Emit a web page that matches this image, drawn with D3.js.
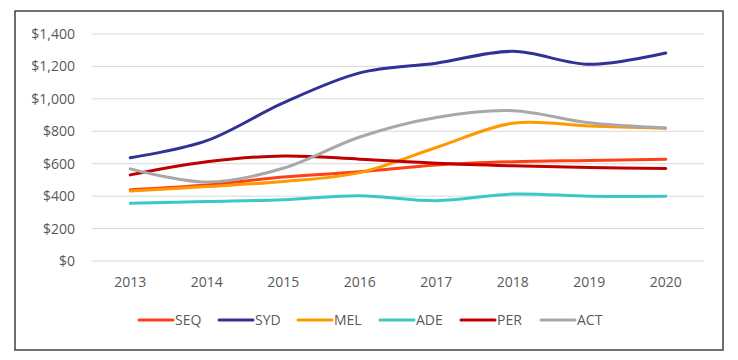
<!DOCTYPE html>
<html><head><meta charset="utf-8">
<script src="https://cdn.jsdelivr.net/npm/d3@7"></script>
<style>body{margin:0;background:#fff}svg{display:block}</style>
</head><body>
<svg id="c" width="738" height="360"></svg>
<script>
const years = ["2013","2014","2015","2016","2017","2018","2019","2020"];
const seriesNames = ["SEQ","SYD","MEL","ADE","PER","ACT"];
const seriesColors = ["#FF4017","#323296","#FF9900","#3CC8C8","#C00000","#A8A8A8"];
const SEQ = [440, 469, 518, 550, 592, 612, 620, 627];
const SYD = [637, 742, 975, 1160, 1220, 1293, 1213, 1283];
const MEL = [432, 459, 490, 545, 700, 850, 833, 819];
const ADE = [356, 367, 378, 403, 372, 413, 400, 399];
const PER = [531, 612, 648, 628, 603, 587, 576, 571];
const ACT = [568, 487, 572, 765, 885, 927, 852, 821];
const yTicks = [0,200,400,600,800,1000,1200,1400];
const seriesValues = [SEQ, SYD, MEL, ADE, PER, ACT];

const svg = d3.select("#c");
const font = "'Open Sans', 'Noto Sans', sans-serif";
svg.append("rect").attr("x",15).attr("y",11).attr("width",708).attr("height",339)
  .attr("fill","#fff").attr("stroke","#404040").attr("stroke-width",1.5);

const x = d3.scaleBand().domain(years).range([92,704]);
const y = d3.scaleLinear().domain([0,1400]).range([261,34]);

const g = svg.append("g");
g.selectAll("line.grid").data(yTicks).join("line")
  .attr("x1",92).attr("x2",704).attr("y1",d=>y(d)).attr("y2",d=>y(d))
  .attr("stroke","#D9D9D9").attr("stroke-width",1);

const yAxis = d3.axisLeft(y).tickValues(yTicks).tickSize(0).tickPadding(17)
  .tickFormat(d=>"$"+d3.format(",")(d));
const ya = svg.append("g").attr("transform","translate(92,0)").call(yAxis);
ya.select(".domain").remove();
ya.selectAll("text").attr("fill","#595959").style("font-family",font).style("font-size","14px");

const xAxis = d3.axisBottom(x).tickSize(0).tickPadding(16);
const xa = svg.append("g").attr("transform","translate(0,261)").call(xAxis);
xa.select(".domain").remove();
xa.selectAll("text").attr("fill","#595959").style("font-family",font).style("font-size","14px");

const line = d3.line().x((d,i)=>x(years[i])+x.bandwidth()/2).y(d=>y(d)).curve(d3.curveCatmullRom.alpha(0));
seriesValues.forEach((vals,i)=>{
  svg.append("path").attr("d",line(vals)).attr("fill","none")
    .attr("stroke",seriesColors[i]).attr("stroke-width",3).attr("stroke-linecap","round");
});

const legendX = [139,219,298,380,461,541];
const lg = svg.append("g");
seriesNames.forEach((n,i)=>{
  lg.append("line").attr("x1",legendX[i]).attr("x2",legendX[i]+34).attr("y1",320).attr("y2",320)
    .attr("stroke",seriesColors[i]).attr("stroke-width",3).attr("stroke-linecap","round");
  lg.append("text").attr("x",legendX[i]+36).attr("y",320).attr("dy","0.35em")
    .attr("fill","#595959").style("font-family",font).style("font-size","14px").text(n);
});
</script>
</body></html>
